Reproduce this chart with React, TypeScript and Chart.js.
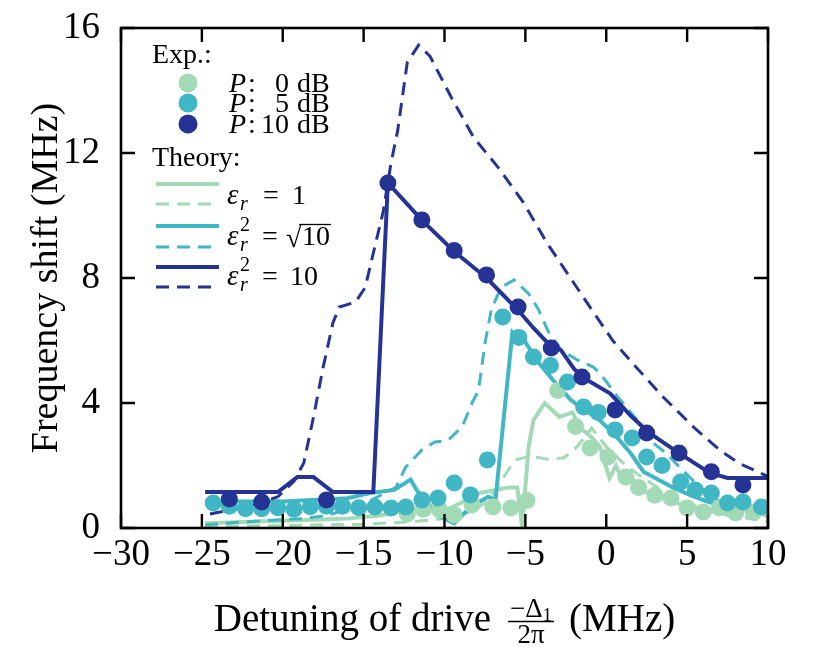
import React, { useEffect, useRef } from 'react';
import { Chart, registerables } from 'chart.js';
Chart.register(...registerables);

const GREEN = '#a1dab4';
const TEAL = '#41b6c4';
const NAVY = '#253494';
const SERIF = '"Liberation Serif", "Times New Roman", serif';

const xTicks = [-30, -25, -20, -15, -10, -5, 0, 5, 10];
const yTicks = [0, 4, 8, 12, 16];

// Experiment, P = 0 dB
const exp0X = [-12.3, -11.3, -10.3, -9.4, -8.3, -7.0, -5.9, -4.9, -3.0, -1.9, -1.0, 0.1, 1.2, 2.0, 3.0, 4.0, 5.0, 6.0, 7.0, 8.0, 9.1];
const exp0Y = [0.45, 0.6, 0.58, 0.42, 0.74, 0.67, 0.64, 0.88, 4.4, 3.25, 2.56, 2.27, 1.63, 1.3, 1.05, 0.96, 0.64, 0.51, 0.64, 0.48, 0.5];
// Experiment, P = 5 dB
const exp5X = [-24.3, -23.3, -22.3, -21.3, -20.3, -19.3, -18.3, -17.3, -16.3, -15.3, -14.3, -13.3, -12.4, -11.4, -10.4, -9.4, -8.4, -7.35, -6.4, -5.4, -4.5, -3.45, -2.4, -1.4, -0.5, 0.55, 1.6, 2.5, 3.45, 4.6, 5.5, 6.5, 7.5, 8.45, 9.6];
const exp5Y = [0.8, 0.7, 0.62, 0.62, 0.65, 0.6, 0.68, 0.7, 0.7, 0.65, 0.67, 0.64, 0.67, 0.9, 0.96, 1.44, 1.06, 2.18, 6.75, 6.1, 5.47, 5.2, 4.67, 3.87, 3.7, 3.14, 2.88, 2.27, 2.0, 1.47, 1.22, 1.12, 0.8, 0.83, 0.67];
// Experiment, P = 10 dB
const exp10X = [-23.3, -21.3, -17.3, -13.5, -11.4, -9.4, -7.4, -5.45, -3.4, -1.5, 0.55, 2.5, 4.5, 6.5, 8.45];
const exp10Y = [0.93, 0.83, 0.9, 11.04, 9.86, 8.88, 8.1, 7.07, 5.76, 4.83, 3.78, 3.04, 2.4, 1.8, 1.38];

// Theory eps_r = 1
const th1SolidX = [-24.8, -22, -19, -16, -14, -13, -12, -11, -10, -9, -8, -7, -6, -5.5, -5.2, -4.8, -4.5, -3.8, -2.9, -2.1, -1.6, -0.9, -0.4, 0.2, 0.6, 1.0, 1.5, 2.0, 3.0, 4.0, 5.0, 6.0, 7.0, 8.0, 9.0, 10.0];
const th1SolidY = [0.15, 0.2, 0.25, 0.3, 0.4, 0.5, 0.6, 0.7, 0.55, 0.8, 1.1, 1.2, 1.3, 1.3, 0.03, 2.6, 3.45, 4.0, 3.55, 3.7, 3.2, 2.9, 2.6, 1.6, 2.0, 1.5, 1.7, 1.2, 1.1, 0.85, 0.7, 0.6, 0.5, 0.45, 0.7, 0.35];
const th1DashX = [-24.8, -20, -15, -12, -10, -8.5, -7.5, -7, -6.5, -6, -5.5, -4.7, -3.6, -2.6, -1.8, -0.9, 0, 1, 2, 3, 4, 5, 6, 7, 8, 9, 10];
const th1DashY = [0.05, 0.08, 0.12, 0.2, 0.3, 0.5, 0.8, 1.1, 1.5, 1.9, 2.2, 2.3, 2.2, 2.25, 2.6, 3.2, 2.6, 2.1, 1.7, 1.35, 1.05, 0.8, 0.6, 0.45, 0.35, 0.3, 0.2];
// Theory eps_r^2 = sqrt(10)
const th2SolidX = [-24.8, -20, -16, -14.6, -13.1, -12.1, -11.7, -10.4, -9.4, -8.4, -7.3, -6.85, -5.8, -5.0, -4.2, -3.3, -2.2, -1.6, -0.4, 0.5, 1.5, 2.3, 3.2, 4.1, 5.2, 6.2, 7.2, 8.5, 10];
const th2SolidY = [0.85, 0.85, 0.95, 1.12, 1.22, 1.55, 1.2, 0.4, 0.15, 0.67, 1.0, 0.9, 6.27, 5.95, 5.3, 4.74, 4.1, 3.87, 3.45, 3.0, 2.4, 1.8, 1.55, 1.3, 1.05, 0.85, 0.7, 0.65, 0.62];
const th2DashX = [-24.8, -22.3, -20.7, -18.8, -17.3, -15.5, -14.5, -13.0, -12.4, -11.4, -10.6, -9.8, -8.9, -8.3, -7.9, -7.5, -7.1, -6.5, -5.7, -4.8, -4.2, -3.6, -2.8, -1.8, -0.8, -0.4, 0.7, 1.9, 2.7, 3.7, 4.7, 5.6, 6.8, 8.4, 10];
const th2DashY = [0.1, 0.2, 0.25, 0.3, 0.4, 0.67, 0.9, 1.3, 1.95, 2.5, 2.75, 2.8, 3.24, 4.0, 4.4, 5.9, 7.0, 7.7, 7.94, 7.5, 7.0, 6.3, 5.7, 5.38, 5.15, 4.96, 4.2, 3.46, 2.8, 2.4, 1.86, 1.4, 0.9, 0.67, 0.58];
// Theory eps_r^2 = 10
const th3SolidX = [-24.8, -20.3, -19.1, -18.1, -16.9, -14.4, -13.5, -11.4, -9.4, -7.4, -5.5, -4.5, -3.4, -2.8, -2.0, -1.4, 0.25, 1.5, 2.6, 4.4, 6.4, 7.5, 10];
const th3SolidY = [1.15, 1.15, 1.63, 1.63, 1.15, 1.15, 11.04, 9.85, 8.85, 8.0, 7.0, 6.4, 5.8, 5.69, 5.1, 4.8, 4.3, 3.6, 3.07, 2.43, 1.76, 1.6, 1.6];
const th3DashX = [-24.5, -22, -20.3, -19.3, -18.7, -18.1, -17.5, -16.9, -16.5, -15.5, -14.9, -14.4, -13.8, -13.3, -12.9, -12.3, -11.6, -10.9, -9.6, -8.2, -6.7, -5.1, -3.7, -1.1, 0.4, 2.0, 3.5, 5.4, 7.0, 8.2, 10];
const th3DashY = [0.45, 0.7, 1.0, 1.5, 2.08, 3.55, 5.15, 6.56, 7.07, 7.23, 7.7, 8.8, 10.1, 11.7, 12.7, 14.9, 15.45, 15.1, 13.8, 12.5, 11.55, 10.4, 9.15, 7.14, 6.0, 5.06, 4.2, 3.23, 2.5, 2.07, 1.65];

const expLabels = ['0', '5', '10'];
const DASH = [13, 8];

const pts = (xs: number[], ys: number[]) => xs.map((x, i) => ({ x, y: ys[i] }));

const lineDs = (xs: number[], ys: number[], color: string, dashed: boolean, order: number) => ({
  data: pts(xs, ys),
  showLine: true,
  borderColor: color,
  backgroundColor: color,
  borderWidth: dashed ? 3 : 4,
  borderDash: dashed ? DASH : [],
  pointRadius: 0,
  tension: 0,
  order,
});
const pointDs = (xs: number[], ys: number[], color: string, order: number) => ({
  data: pts(xs, ys),
  showLine: false,
  backgroundColor: color,
  borderColor: color,
  pointRadius: 8.5,
  pointBorderWidth: 0,
  order,
});

const decor = {
  id: 'decor',
  afterDatasetsDraw(chart: any) {
    const { ctx, chartArea: a, scales } = chart;
    const x = scales.x, y = scales.y;
    ctx.save();
    // frame and inward ticks
    ctx.strokeStyle = '#000';
    ctx.lineWidth = 2.6;
    ctx.strokeRect(a.left, a.top, a.right - a.left, a.bottom - a.top);
    ctx.lineWidth = 2.4;
    ctx.beginPath();
    for (const v of xTicks) {
      const px = x.getPixelForValue(v);
      ctx.moveTo(px, a.bottom); ctx.lineTo(px, a.bottom - 14);
      ctx.moveTo(px, a.top); ctx.lineTo(px, a.top + 14);
    }
    for (const v of yTicks) {
      const py = y.getPixelForValue(v);
      ctx.moveTo(a.left, py); ctx.lineTo(a.left + 14, py);
      ctx.moveTo(a.right, py); ctx.lineTo(a.right - 14, py);
    }
    ctx.stroke();

    // legend
    ctx.fillStyle = '#000';
    ctx.textBaseline = 'alphabetic';
    ctx.textAlign = 'left';
    const f = (s: number, it = false) => `${it ? 'italic ' : ''}${s}px ${SERIF}`;
    ctx.font = f(28);
    ctx.fillText('Exp.:', 152, 63);
    const cols = [GREEN, TEAL, NAVY];
    const rowsY = [83, 103, 124];
    cols.forEach((c, i) => {
      ctx.fillStyle = c;
      ctx.beginPath();
      ctx.arc(188, rowsY[i], 9.5, 0, Math.PI * 2);
      ctx.fill();
      ctx.fillStyle = '#000';
      const by = rowsY[i] + 9;
      ctx.font = f(28, true);
      ctx.textAlign = 'left';
      ctx.fillText('P', 229, by);
      ctx.font = f(28);
      ctx.fillText(':', 248, by);
      ctx.textAlign = 'right';
      ctx.fillText(expLabels[i], 289, by);
      ctx.textAlign = 'left';
      ctx.fillText('dB', 297, by);
    });
    ctx.fillText('Theory:', 152, 166);
    const lineRows = [[184, 204, GREEN], [226, 247, TEAL], [267, 287, NAVY]] as [number, number, string][];
    for (const [ys, yd, c] of lineRows) {
      ctx.strokeStyle = c;
      ctx.lineWidth = 4; ctx.setLineDash([]);
      ctx.beginPath(); ctx.moveTo(156, ys); ctx.lineTo(219, ys); ctx.stroke();
      ctx.lineWidth = 3; ctx.setLineDash(DASH);
      ctx.beginPath(); ctx.moveTo(156, yd); ctx.lineTo(219, yd); ctx.stroke();
    }
    ctx.setLineDash([]);
    ctx.fillStyle = '#000';
    // eps_r = 1
    ctx.font = f(29, true);
    ctx.fillText('\u03b5', 227, 204);
    ctx.font = f(20, true);
    ctx.fillText('r', 240, 210);
    ctx.font = f(28);
    ctx.fillText('=', 263, 204);
    ctx.fillText('1', 292, 204);
    // eps_r^2 = ...
    const epsSq = (by: number) => {
      ctx.font = f(29, true);
      ctx.fillText('\u03b5', 227, by);
      ctx.font = f(20, true);
      ctx.fillText('r', 240, by + 6);
      ctx.font = f(20);
      ctx.fillText('2', 240, by - 14);
      ctx.font = f(28);
      ctx.fillText('=', 262, by);
    };
    epsSq(245);
    ctx.font = f(28);
    ctx.fillText('\u221a', 286, 247);
    ctx.fillText('10', 302, 245);
    ctx.strokeStyle = '#000';
    ctx.lineWidth = 1.3;
    ctx.beginPath(); ctx.moveTo(299, 224.5); ctx.lineTo(331, 224.5); ctx.stroke();
    epsSq(285);
    ctx.font = f(28);
    ctx.fillText('10', 290, 285);

    // y-axis title
    ctx.save();
    ctx.translate(57, (a.top + a.bottom) / 2);
    ctx.rotate(-Math.PI / 2);
    ctx.textAlign = 'center';
    ctx.font = f(38);
    ctx.fillText('Frequency shift (MHz)', 0, 0);
    ctx.restore();

    // x-axis title with fraction
    ctx.textAlign = 'left';
    const base = 631;
    ctx.font = f(39);
    const t1 = 'Detuning of drive';
    const t3 = '(MHz)';
    const w1 = ctx.measureText(t1).width;
    const w3 = ctx.measureText(t3).width;
    ctx.font = f(27);
    const wMinusDelta = ctx.measureText('\u2212\u0394').width;
    const w2pi = ctx.measureText('2\u03c0').width;
    ctx.font = f(19);
    const wSub = ctx.measureText('1').width;
    const wNum = wMinusDelta + wSub;
    const wFrac = Math.max(wNum, w2pi) + 4;
    const gap1 = 17, gap2 = 15;
    const total = w1 + gap1 + wFrac + gap2 + w3;
    let cx = (a.left + a.right) / 2 - total / 2;
    ctx.font = f(39);
    ctx.fillText(t1, cx, base);
    cx += w1 + gap1;
    const nx = cx + (wFrac - wNum) / 2;
    ctx.font = f(27);
    ctx.fillText('\u2212\u0394', nx, base - 14);
    ctx.font = f(19);
    ctx.fillText('1', nx + wMinusDelta, base - 10);
    ctx.font = f(27);
    ctx.fillText('2\u03c0', cx + (wFrac - w2pi) / 2, base + 12);
    ctx.lineWidth = 1.3;
    ctx.beginPath(); ctx.moveTo(cx, base - 9.5); ctx.lineTo(cx + wFrac, base - 9.5); ctx.stroke();
    cx += wFrac + gap2;
    ctx.font = f(39);
    ctx.fillText(t3, cx, base);
    ctx.restore();
  },
};

export default function App() {
  const ref = useRef<HTMLCanvasElement>(null);
  useEffect(() => {
    document.body.style.margin = '0';
    const canvas = ref.current!;
    const tickFont = { family: SERIF, size: 37 };
    const chart = new Chart(canvas, {
      type: 'scatter',
      data: {
        datasets: [
          pointDs(exp10X, exp10Y, NAVY, 0),
          pointDs(exp5X, exp5Y, TEAL, 1),
          pointDs(exp0X, exp0Y, GREEN, 2),
          lineDs(th3SolidX, th3SolidY, NAVY, false, 3),
          lineDs(th3DashX, th3DashY, NAVY, true, 4),
          lineDs(th2SolidX, th2SolidY, TEAL, false, 5),
          lineDs(th2DashX, th2DashY, TEAL, true, 6),
          lineDs(th1SolidX, th1SolidY, GREEN, false, 7),
          lineDs(th1DashX, th1DashY, GREEN, true, 8),
        ] as any,
      },
      options: {
        responsive: false,
        animation: false,
        devicePixelRatio: 1,
        layout: { padding: { top: 28, right: 62, left: 0, bottom: 0 } },
        plugins: { legend: { display: false }, tooltip: { enabled: false } },
        scales: {
          x: {
            type: 'linear',
            min: -30,
            max: 10,
            grid: { display: false, drawTicks: false },
            border: { display: false },
            ticks: {
              stepSize: 5,
              color: '#000',
              font: tickFont,
              padding: 5,
              maxRotation: 0,
              callback: (v: any) => (v < 0 ? '\u2212' + Math.abs(v) : String(v)),
            },
            afterFit: (s: any) => { s.height = 136; s.paddingLeft = 0; s.paddingRight = 0; },
          },
          y: {
            type: 'linear',
            min: 0,
            max: 16,
            grid: { display: false, drawTicks: false },
            border: { display: false },
            ticks: { stepSize: 4, color: '#000', font: tickFont, padding: 21 },
            afterFit: (s: any) => { s.width = 121; s.paddingTop = 0; s.paddingBottom = 0; },
          },
        },
      } as any,
      plugins: [decor],
    });
    return () => chart.destroy();
  }, []);
  return (
    <div style={{ width: 830, height: 664, background: '#fff' }}>
      <canvas ref={ref} width={830} height={664} style={{ display: 'block' }} />
    </div>
  );
}
